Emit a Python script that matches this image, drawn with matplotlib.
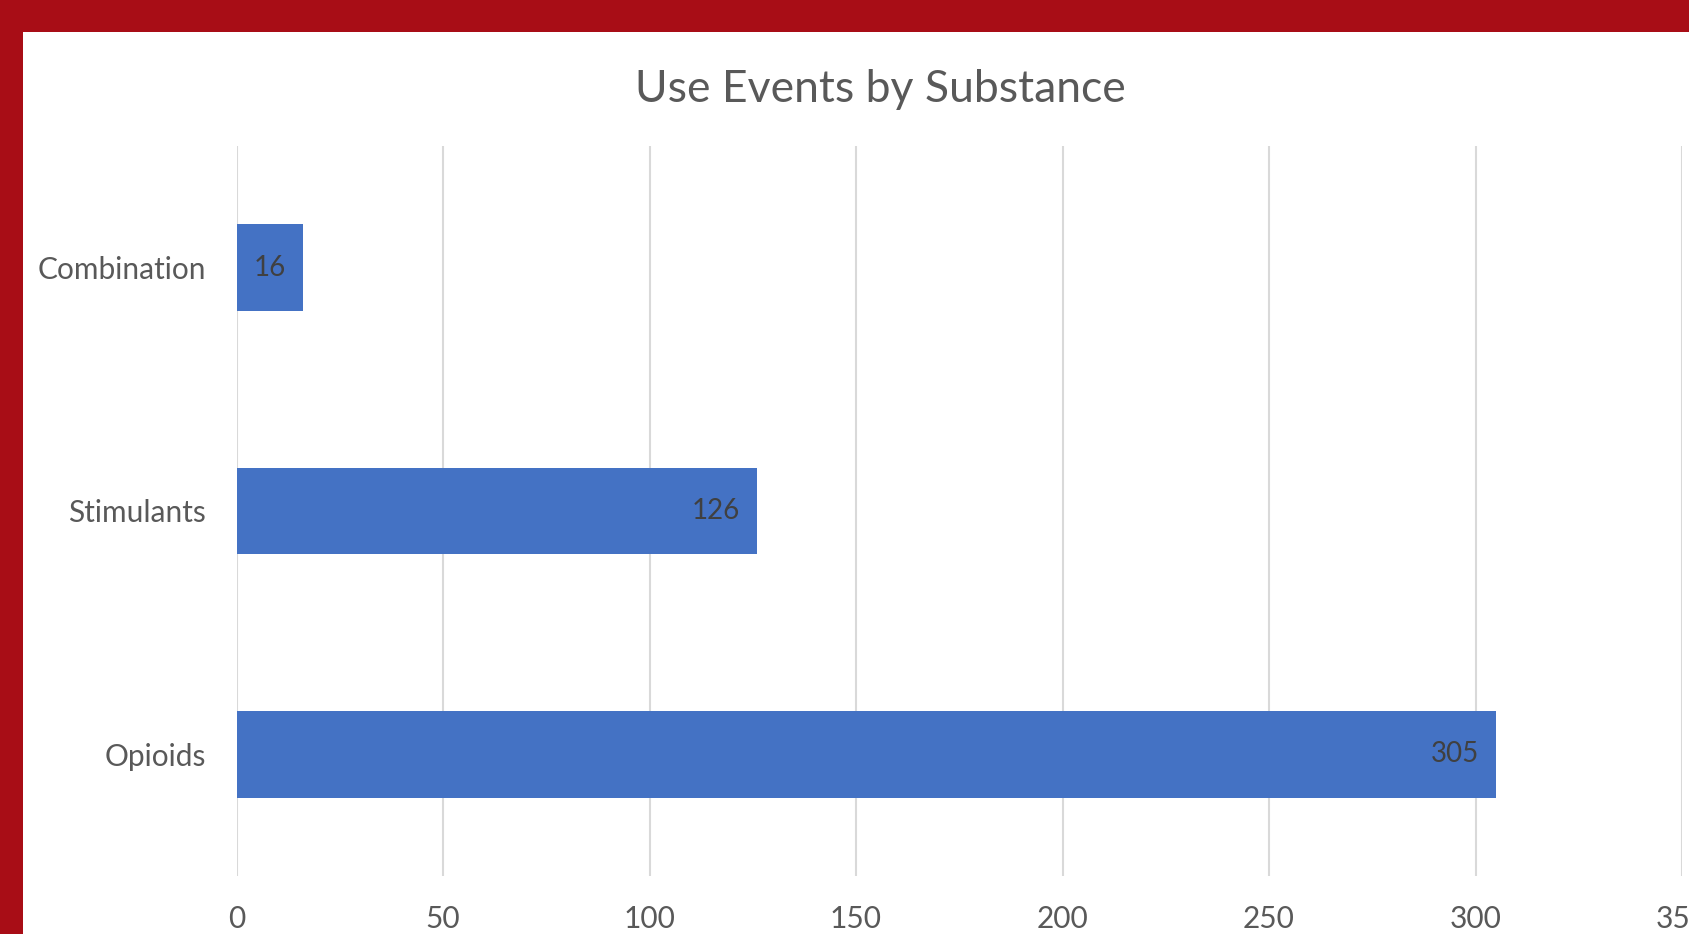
import matplotlib.pyplot as plt
from matplotlib.patches import Rectangle

categories = ["Opioids", "Stimulants", "Combination"]
values = [305, 126, 16]
x_ticks = [0, 50, 100, 150, 200, 250, 300, 350]
title = "Use Events by Substance"

W, H = 1689, 934
plt.rcParams["font.family"] = ["Lato", "DejaVu Sans"]

fig = plt.figure(figsize=(W / 100, H / 100), dpi=100)
fig.patch.set_facecolor("white")

# red frame on top and left
border = "#A80D16"
fig.patches.append(Rectangle((0, 1 - 32 / H), 1, 32 / H, transform=fig.transFigure,
                             facecolor=border, edgecolor="none", zorder=0))
fig.patches.append(Rectangle((0, 0), 23 / W, 1, transform=fig.transFigure,
                             facecolor=border, edgecolor="none", zorder=0))

ax = fig.add_axes([236.5 / W, (H - 876) / H, (1682 - 236.5) / W, (876 - 146) / H])
ax.set_facecolor("white")

ypos = list(range(len(categories)))
ax.barh(ypos, values, height=0.355, color="#4472C4", zorder=3)

for y, v in zip(ypos, values):
    ax.annotate(str(v), xy=(v, y), xytext=(-17, 0), textcoords="offset pixels",
                ha="right", va="center", fontsize=20, color="#404040", zorder=4)

ax.set_xlim(x_ticks[0], x_ticks[-1])
ax.set_ylim(-0.5, len(categories) - 0.5)
ax.set_xticks(x_ticks)
ax.set_yticks(ypos)
ax.set_yticklabels(categories)
ax.tick_params(axis="both", length=0, labelsize=21.5, colors="#595959")
ax.tick_params(axis="y", pad=22)
ax.tick_params(axis="x", pad=21)
ax.grid(axis="x", color="#D9D9D9", linewidth=1.5, zorder=0)
ax.grid(axis="y", visible=False)
for s in ax.spines.values():
    s.set_visible(False)

fig.text(880 / W, 1 - 89 / H, title, ha="center", va="center",
         fontsize=32, color="#595959")

fig.savefig("out.png", dpi=100)
